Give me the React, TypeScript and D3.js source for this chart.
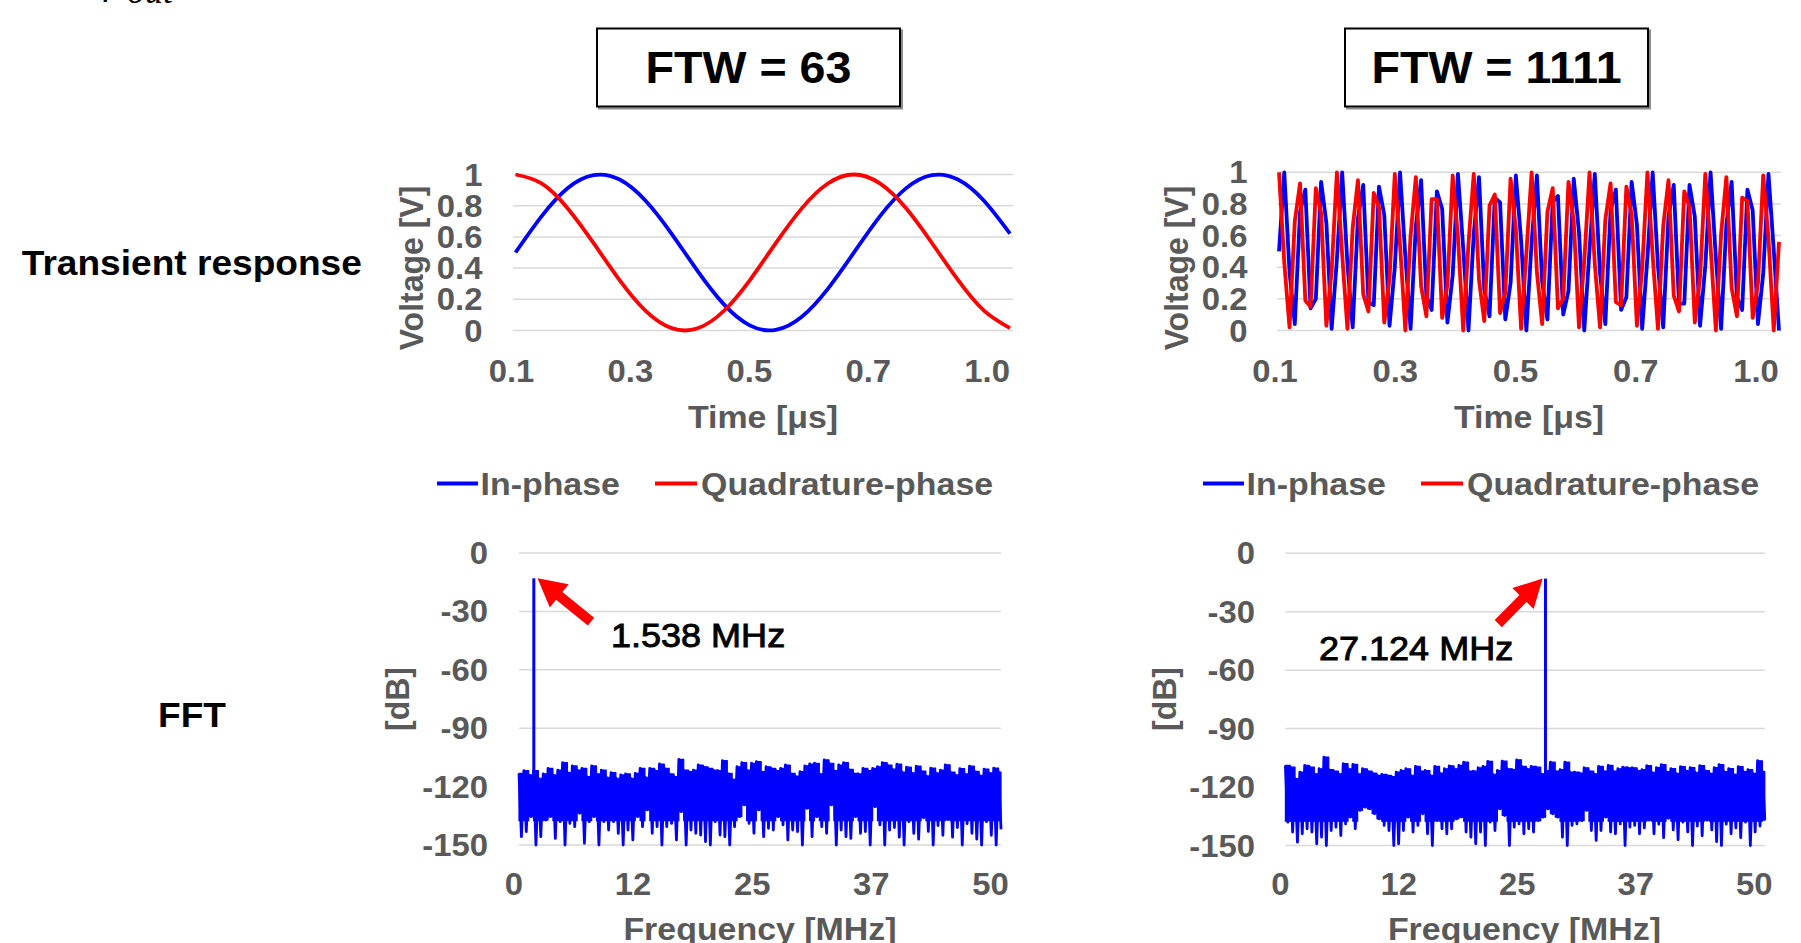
import React from 'react';
import * as d3 from 'd3';

// ---------------- data ----------------
const ftwTitles = ['FTW = 63', 'FTW = 1111'];
const rowLabels = ['Transient response', 'FFT'];
const seriesNames = ['In-phase', 'Quadrature-phase'];

const timeTickIdx = [0, 23, 46, 69, 92];
const timeTickLabels = ['0.1', '0.3', '0.5', '0.7', '1.0'];
const voltTicks = [0, 0.2, 0.4, 0.6, 0.8, 1];
const voltTickLabels = ['0', '0.2', '0.4', '0.6', '0.8', '1'];
const freqTicks = [0, 12.5, 25, 37.5, 50];
const freqTickLabels = ['0', '12', '25', '37', '50'];
const dbTicks = [0, -30, -60, -90, -120, -150];

// FTW = 63: sample index and values (every 5th sample)
const slowIdx = [0, 5, 10, 15, 20, 25, 30, 35, 40, 45, 50, 55, 60, 65, 70, 75, 80, 85, 90, 95];
const slowI = [0.5, 0.732, 0.912, 0.996, 0.968, 0.832, 0.62, 0.381, 0.169, 0.033, 0.004, 0.088, 0.267, 0.499, 0.732, 0.911, 0.996, 0.968, 0.832, 0.621];
const slowQ = [1.0, 0.943, 0.784, 0.56, 0.323, 0.126, 0.015, 0.014, 0.125, 0.322, 0.56, 0.783, 0.942, 1.0, 0.943, 0.785, 0.561, 0.324, 0.127, 0.015];

// FTW = 1111: every sample n = 0..95
const fastI = [0.5, 1.0, 0.37, 0.04, 0.75, 0.89, 0.14, 0.2, 0.94, 0.68, 0.01, 0.45, 1.0, 0.42, 0.02, 0.71, 0.92, 0.18, 0.16, 0.91,
  0.73, 0.03, 0.4, 1.0, 0.47, 0.01, 0.66, 0.95, 0.22, 0.13, 0.88, 0.77, 0.05, 0.35, 0.99, 0.52, 0.0, 0.61, 0.97, 0.26,
  0.09, 0.84, 0.81, 0.07, 0.3, 0.98, 0.57, 0.0, 0.56, 0.98, 0.31, 0.07, 0.81, 0.85, 0.1, 0.25, 0.96, 0.62, 0.0, 0.51,
  0.99, 0.36, 0.04, 0.76, 0.89, 0.13, 0.21, 0.94, 0.67, 0.01, 0.46, 1.0, 0.41, 0.02, 0.72, 0.92, 0.17, 0.17, 0.92, 0.72,
  0.03, 0.41, 1.0, 0.46, 0.01, 0.67, 0.94, 0.21, 0.13, 0.89, 0.76, 0.04, 0.36, 0.99, 0.51, 0.0];
const fastQ = [1.0, 0.43, 0.02, 0.69, 0.93, 0.19, 0.15, 0.9, 0.74, 0.03, 0.38, 1.0, 0.48, 0.01, 0.65, 0.95, 0.23, 0.12, 0.87, 0.78,
  0.05, 0.33, 0.99, 0.54, 0.0, 0.6, 0.97, 0.28, 0.09, 0.83, 0.83, 0.08, 0.29, 0.98, 0.59, 0.0, 0.55, 0.99, 0.32, 0.06,
  0.79, 0.86, 0.11, 0.24, 0.96, 0.64, 0.01, 0.49, 1.0, 0.37, 0.04, 0.75, 0.9, 0.14, 0.2, 0.94, 0.69, 0.02, 0.44, 1.0,
  0.42, 0.02, 0.7, 0.93, 0.18, 0.16, 0.91, 0.73, 0.03, 0.39, 1.0, 0.47, 0.01, 0.66, 0.95, 0.22, 0.12, 0.88, 0.78, 0.05,
  0.34, 0.99, 0.53, 0.0, 0.61, 0.97, 0.27, 0.09, 0.84, 0.82, 0.08, 0.3, 0.98, 0.58, 0.0, 0.56];

// FFT noise envelopes (dB), 100 bins across 0..50 MHz: upper and lower excursions
const fftTopA = [-113.2, -111.8, -114.0, -111.8, -115.7, -113.5, -110.6, -114.0, -111.5, -107.7, -112.8, -109.4, -111.5, -110.6, -114.9, -109.4, -113.5, -111.5, -115.2, -112.8,
  -115.7, -114.0, -113.5, -115.7, -113.2, -110.6, -115.2, -110.6, -111.8, -108.4, -110.6, -113.5, -114.9, -106.0, -111.5, -112.3, -111.5, -108.9, -109.8, -110.6,
  -111.5, -111.8, -106.7, -113.2, -116.3, -109.8, -107.7, -111.5, -108.0, -107.2, -112.3, -109.8, -110.6, -111.8, -110.6, -108.9, -113.2, -114.6, -112.3, -109.4,
  -108.4, -108.0, -113.5, -106.3, -108.0, -111.8, -108.9, -107.7, -111.1, -113.2, -113.5, -110.6, -111.8, -110.6, -109.8, -107.7, -108.9, -111.0, -108.5, -112.5,
  -110.0, -113.0, -109.5, -112.0, -114.5, -110.5, -113.0, -111.5, -108.8, -112.5, -114.0, -110.8, -113.5, -109.5, -112.2, -114.2, -111.0, -113.0, -110.5, -112.5];
const fftBotA = [-145.7, -143.1, -135.4, -150, -145.7, -137.2, -135.4, -146.6, -138.0, -150, -138.9, -140.6, -133.7, -149.1, -138.0, -135.4, -150, -138.0, -142.3, -138.0,
  -144.0, -150, -142.3, -147.4, -135.4, -140.6, -132.0, -144.0, -140.6, -150, -140.6, -138.9, -147.4, -132.9, -150, -142.3, -144.0, -144.9, -148.3, -150,
  -138.0, -144.9, -145.7, -150, -140.6, -135.4, -129.4, -138.9, -144.0, -132.0, -145.7, -141.4, -142.3, -135.4, -139.7, -147.4, -142.3, -143.1, -150, -131.2,
  -145.7, -135.4, -140.6, -144.0, -129.4, -150, -142.3, -145.7, -146.6, -135.4, -144.0, -143.1, -150, -130.3, -139.7, -150, -142.3, -141, -146, -150,
  -138, -144, -147, -136, -143, -150, -140, -145, -137, -146, -141, -150, -139, -144, -147, -150, -138, -145, -150, -142];
const fftTopB = [-108.9, -109.8, -115.7, -112.3, -108.9, -109.8, -113.2, -110.6, -104.6, -111.1, -111.8, -113.2, -108.0, -110.6, -108.4, -113.2, -110.6, -111.8, -112.8, -114.0,
  -113.5, -114.0, -114.6, -112.3, -111.5, -110.6, -114.0, -109.4, -111.8, -111.5, -114.0, -109.4, -112.8, -110.6, -109.1, -110.6, -108.9, -107.2, -111.8, -111.8,
  -110.1, -109.4, -106.8, -113.5, -111.5, -106.7, -110.6, -111.1, -106.0, -109.4, -110.6, -109.4, -109.8, -113.2, -111.5, -107.2, -111.8, -111.1, -107.2, -112.3,
  -112.3, -112.8, -110.1, -111.8, -113.2, -109.4, -111.8, -108.9, -111.8, -110.6, -109.8, -110.1, -110.1, -111.5, -111.0, -109.0, -112.5, -110.0, -108.5, -112.0,
  -110.5, -113.0, -109.5, -111.5, -110.0, -112.5, -109.0, -111.5, -113.0, -110.0, -108.5, -112.0, -110.5, -113.5, -109.5, -112.0, -111.0, -113.0, -106.5, -112.0];
const fftBotB = [-138.0, -143.1, -148.3, -144.0, -141.4, -143.1, -149.1, -145.7, -150, -142.3, -140.6, -144.9, -138.9, -135.4, -141.4, -132.0, -130.3, -131.2, -133.7, -136.3,
  -139.7, -142.3, -150, -149.1, -142.3, -135.4, -143.1, -139.7, -133.7, -144.0, -150, -137.2, -141.4, -144.0, -141.4, -136.3, -135.4, -143.1, -145.7, -149.1,
  -143.1, -150, -138.0, -142.3, -131.2, -134.6, -150, -140.6, -138.9, -144.0, -141.4, -143.1, -137.2, -135.4, -131.2, -133.7, -135.4, -145.7, -150, -139.7,
  -138.9, -137.2, -132.0, -142.3, -147.4, -142.3, -135.4, -143.1, -144.0, -138.9, -150, -140.6, -139.7, -144.0, -141, -137, -144, -139, -146, -136,
  -142, -147, -138, -143, -150, -140, -145, -137, -142, -148, -150, -139, -144, -141, -146, -138, -150, -143, -140, -137];

const peakFreq = [1.538, 27.124];
const peakDb = [-13, -13];
const peakLabels = ['1.538 MHz', '27.124 MHz'];
// annotation arrow [tailFreq, tailDb, tipFreq, tipDb] and label anchor [freq, dB]
const arrowA = [7.47, -35.3, 1.92, -13];
const arrowB = [22.2, -36.1, 26.83, -13];
const labelPosA = [9.54, -48.1];
const labelPosB = [3.5, -55];

// ---------------- styling ----------------
const SX = 1.06;
const FONT = '"Liberation Sans", Arial, Helvetica, sans-serif';
const GRAY = '#595959';
const GRID = '#d9d9d9';
const BLUE = '#0000ff';
const RED = '#ff0000';
const CORE_DB = -137.5; // lower limit of the dense, filled part of the noise floor

type TP = {
  x: number; y: number; size: number; weight?: string; fill?: string; anchor?: string;
  rot?: number; family?: string; italic?: boolean; stroke?: number; children: React.ReactNode;
};
function T({ x, y, size, weight = 'bold', fill = GRAY, anchor = 'start', rot = 0, family = FONT, italic = false, stroke = 0, children }: TP) {
  const tr = `translate(${x},${y}) scale(${SX},1)` + (rot ? ` rotate(${rot})` : '');
  return (
    <text transform={tr} fontSize={size} fontWeight={weight} fill={fill} textAnchor={anchor as any}
      fontFamily={family} fontStyle={italic ? 'italic' : 'normal'}
      stroke={stroke ? fill : 'none'} strokeWidth={stroke}>{children}</text>
  );
}

type TransProps = {
  xr: [number, number]; yr: [number, number]; gx: [number, number];
  idx: number[]; iv: number[]; qv: number[]; smooth: boolean;
  tickRight: number; yTitleX: number; xTitleX: number;
};
function Transient({ xr, yr, gx, idx, iv, qv, smooth, tickRight, yTitleX, xTitleX }: TransProps) {
  const x = d3.scaleLinear().domain([0, 95]).range(xr);
  const y = d3.scaleLinear().domain([0, 1]).range(yr);
  const line = d3.line<number>().x((_, i) => x(idx[i])).y(d => y(d))
    .curve(smooth ? d3.curveNatural : d3.curveLinear);
  return (
    <g>
      {voltTicks.map((t, i) => (
        <g key={i}>
          <line x1={gx[0]} x2={gx[1]} y1={y(t)} y2={y(t)} stroke={GRID} strokeWidth={1.5} />
          <T x={tickRight} y={y(t) + 11} size={31} anchor="end">{voltTickLabels[i]}</T>
        </g>
      ))}
      <path d={line(iv) || ''} fill="none" stroke={BLUE} strokeWidth={3.8} strokeLinejoin="round" />
      <path d={line(qv) || ''} fill="none" stroke={RED} strokeWidth={3.8} strokeLinejoin="round" />
      {timeTickIdx.map((n, i) => (
        <T key={i} x={x(n) - 4 - n * 0.035} y={381.5} size={31} anchor="middle">{timeTickLabels[i]}</T>
      ))}
      <T x={yTitleX} y={268} size={32} anchor="middle" rot={-90}>Voltage [V]</T>
      <T x={xTitleX} y={428} size={32} anchor="middle">Time [μs]</T>
    </g>
  );
}

type FftProps = {
  xr: [number, number]; yr: [number, number]; top: number[]; bot: number[];
  pf: number; pdb: number; arrow: number[]; lab: number[]; labText: string;
  tickRight: number; yTitleX: number; xTitleX: number;
};
function Fft({ xr, yr, top, bot, pf, pdb, arrow, lab, labText, tickRight, yTitleX, xTitleX }: FftProps) {
  const x = d3.scaleLinear().domain([0, 50]).range(xr);
  const y = d3.scaleLinear().domain([-150, 0]).range(yr);
  const n = top.length;
  const step = 50 / (n - 0.5);
  const pts: [number, number][] = [];
  for (let i = 0; i < n; i++) {
    pts.push([i * step, top[i]]);
    pts.push([i * step + step / 2, bot[i]]);
  }
  const line = d3.line<[number, number]>().x(d => x(d[0])).y(d => y(d[1]));
  // dense core of the noise floor: from the upper envelope down to the core level
  const coreRows: [number, number, number][] = top.map((t, i) => [i * step, t, Math.max(bot[i], CORE_DB)]);
  coreRows.push([50, top[n - 1], Math.max(bot[n - 1], CORE_DB)]);
  const area = d3.area<[number, number, number]>()
    .x(d => x(d[0])).y1(d => y(d[1])).y0(d => y(d[2])).curve(d3.curveStepAfter);
  const bin = Math.min(n - 1, Math.floor(pf / step));
  const spike: [number, number][] = [[pf, top[bin] - 2], [pf, pdb]];
  // arrow polygon
  const tx = x(arrow[0]), ty = y(arrow[1]), px = x(arrow[2]), py = y(arrow[3]);
  const L = Math.hypot(px - tx, py - ty);
  const ux = (px - tx) / L, uy = (py - ty) / L;
  const nx = -uy, ny = ux;
  const hl = 28, hw = 15, sw = 5;
  const bx = px - ux * hl, by = py - uy * hl;
  const poly = [
    [tx + nx * sw, ty + ny * sw], [bx + nx * sw, by + ny * sw], [bx + nx * hw, by + ny * hw], [px, py],
    [bx - nx * hw, by - ny * hw], [bx - nx * sw, by - ny * sw], [tx - nx * sw, ty - ny * sw],
  ].map(p => p.join(',')).join(' ');
  return (
    <g>
      {dbTicks.map((t, i) => (
        <g key={i}>
          <line x1={xr[0]} x2={xr[1]} y1={y(t)} y2={y(t)} stroke={GRID} strokeWidth={1.5} />
          <T x={tickRight} y={y(t) + 11} size={31} anchor="end">{String(t)}</T>
        </g>
      ))}
      <path d={area(coreRows) || ''} fill={BLUE} stroke={BLUE} strokeWidth={1.2} strokeLinejoin="round" />
      <path d={line(pts) || ''} fill="none" stroke={BLUE} strokeWidth={2.8} strokeLinejoin="round" />
      <path d={line(spike) || ''} fill="none" stroke={BLUE} strokeWidth={3} />
      {freqTicks.map((v, i) => (
        <T key={i} x={x(v) - 5 - v * 0.11} y={895} size={31} anchor="middle">{freqTickLabels[i]}</T>
      ))}
      <polygon points={poly} fill={RED} />
      <T x={x(lab[0])} y={y(lab[1])} size={34} weight="normal" fill="#000" stroke={0.9}>{labText}</T>
      <T x={yTitleX} y={699} size={32} anchor="middle" rot={-90}>[dB]</T>
      <T x={xTitleX} y={940} size={32} anchor="middle">Frequency [MHz]</T>
    </g>
  );
}

function Legend({ x0 }: { x0: number }) {
  const yl = 483.5;
  return (
    <g>
      <line x1={x0} x2={x0 + 41} y1={yl} y2={yl} stroke={BLUE} strokeWidth={4} />
      <T x={x0 + 43.5} y={yl + 11.5} size={32}>{seriesNames[0]}</T>
      <line x1={x0 + 218} x2={x0 + 260} y1={yl} y2={yl} stroke={RED} strokeWidth={4} />
      <T x={x0 + 264} y={yl + 11.5} size={32}>{seriesNames[1]}</T>
    </g>
  );
}

function TitleBox({ x, w, text }: { x: number; w: number; text: string }) {
  return (
    <g>
      <rect x={x + 2} y={30.5} width={w} height={78} fill="none" stroke="#8c8c8c" strokeWidth={2} />
      <rect x={x} y={28.5} width={w} height={78} fill="#fff" stroke="#000" strokeWidth={2} />
      <T x={x + w / 2} y={83.3} size={44} fill="#000" anchor="middle">{text}</T>
    </g>
  );
}

export default function App() {
  return (
    <svg width={1801} height={943} style={{ position: 'absolute', left: 0, top: 0, background: '#fff' }}>
      <rect x={0} y={0} width={1801} height={943} fill="#fff" />
      {/* cut-off formula fragment at the top */}
      <text x={103} y={-7} fontSize={40} fontStyle="italic" fontFamily='"Liberation Serif", "Times New Roman", serif'>f</text>
      <text x={127} y={2.5} fontSize={36} fontStyle="italic" fontFamily='"Liberation Serif", "Times New Roman", serif'>out</text>

      <TitleBox x={597} w={303} text={ftwTitles[0]} />
      <TitleBox x={1345} w={303} text={ftwTitles[1]} />

      <T x={21.8} y={274.5} size={35} fill="#000">{rowLabels[0]}</T>
      <T x={192} y={727} size={35} fill="#000" anchor="middle">{rowLabels[1]}</T>

      <Transient xr={[515.5, 1010]} yr={[330.5, 174.5]} gx={[513, 1013]} idx={slowIdx} iv={slowI} qv={slowQ}
        smooth={true} tickRight={482.5} yTitleX={423} xTitleX={763} />
      <Transient xr={[1279, 1779]} yr={[330.5, 172.3]} gx={[1277, 1781]}
        idx={fastI.map((_, i) => i)} iv={fastI} qv={fastQ}
        smooth={false} tickRight={1247.5} yTitleX={1188} xTitleX={1529} />

      <Legend x0={437} />
      <Legend x0={1203} />

      <Fft xr={[519, 1001]} yr={[845, 553]} top={fftTopA} bot={fftBotA} pf={peakFreq[0]} pdb={peakDb[0]}
        arrow={arrowA} lab={labelPosA} labText={peakLabels[0]} tickRight={488} yTitleX={409} xTitleX={760} />
      <Fft xr={[1285.4, 1764.8]} yr={[845.5, 553.3]} top={fftTopB} bot={fftBotB} pf={peakFreq[1]} pdb={peakDb[1]}
        arrow={arrowB} lab={labelPosB} labText={peakLabels[1]} tickRight={1255} yTitleX={1176} xTitleX={1524.5} />
    </svg>
  );
}
